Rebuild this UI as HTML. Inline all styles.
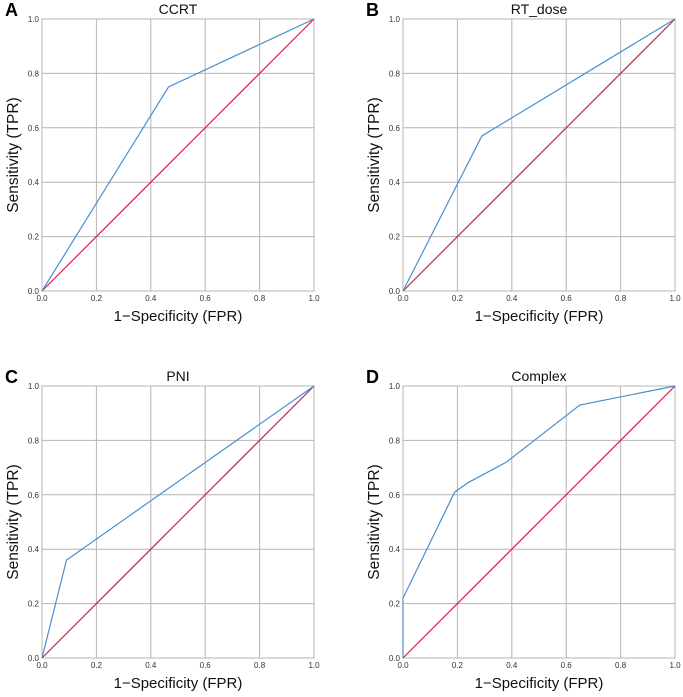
<!DOCTYPE html>
<html><head><meta charset="utf-8"><style>
body{margin:0;background:#fff;}
svg{display:block;font-family:"Liberation Sans",sans-serif;}
</style></head><body>
<svg id="chart" width="683" height="697"></svg>
<script>
const panelLetters=["A","B","C","D"];
const panelTitles=["CCRT","RT_dose","PNI","Complex"];
const rocFPR=[[0,0.465,1],[0,0.29,1],[0,0.09,1],[0,0,0.19,0.24,0.38,0.65,1]];
const rocTPR=[[0,0.75,1],[0,0.57,1],[0,0.36,1],[0,0.22,0.61,0.645,0.72,0.93,1]];
const tickLabels=["0.0","0.2","0.4","0.6","0.8","1.0"];
const tickValues=[0,0.2,0.4,0.6,0.8,1];
const svg=document.getElementById('chart');
const NS="http://www.w3.org/2000/svg";
function mk(tag,attrs,parent){const e=document.createElementNS(NS,tag);for(const k in attrs)e.setAttribute(k,attrs[k]);parent.appendChild(e);return e;}
const origins=[[42,19],[403,19],[42,386],[403,386]];
const W=272,H=272;
for(let p=0;p<4;p++){
  const [x0,y0]=origins[p];
  const g=mk('g',{},svg);
  
  
  const sx=v=>x0+v*W, sy=v=>y0+H-v*H;
  const bg=mk('rect',{x:x0,y:y0,width:W,height:H,fill:'#fff',stroke:'#888','stroke-width':1},g);
  
  tickValues.forEach((t,i)=>{
    const gx=mk('line',{x1:sx(t),x2:sx(t),y1:y0,y2:y0+H,stroke:'#b4b4b4','stroke-width':1},g);
    
    const gy=mk('line',{x1:x0,x2:x0+W,y1:sy(t),y2:sy(t),stroke:'#b4b4b4','stroke-width':1},g);
    
    const xt=mk('text',{x:sx(t),y:y0+H+10,'font-size':8,'text-anchor':'middle',fill:'#333'},g);
    xt.textContent=tickLabels[i];
    
    const yt=mk('text',{x:x0-3,y:sy(t)+3,'font-size':8,'text-anchor':'end',fill:'#333'},g);
    yt.textContent=tickLabels[i];
    
  });
  const ref=mk('line',{x1:sx(0),y1:sy(0),x2:sx(1),y2:sy(1),stroke:'#d0204a','stroke-width':1.2},g);
  
  const pts=rocFPR[p].map((f,i)=>sx(f)+','+sy(rocTPR[p][i])).join(' ');
  const roc=mk('polyline',{points:pts,fill:'none',stroke:'#4a8fd0','stroke-width':1.2},g);
  
  const tt=mk('text',{x:x0+W/2,y:y0-5,'font-size':14,'text-anchor':'middle',fill:'#111'},g);
  tt.textContent=panelTitles[p];
  
  const lt=mk('text',{x:x0-37,y:y0-3,'font-size':18,'font-weight':'bold',fill:'#000'},g);
  lt.textContent=panelLetters[p];
  
  const xl=mk('text',{x:x0+W/2,y:y0+H+30,'font-size':15,'text-anchor':'middle',fill:'#111'},g);
  xl.textContent='1\u2212Specificity (FPR)';
  
  const yl=mk('text',{x:0,y:0,'font-size':15.5,'text-anchor':'middle',fill:'#111',transform:`translate(${x0-24},${y0+H/2}) rotate(-90)`},g);
  yl.textContent='Sensitivity (TPR)';
  
}
</script>
</body></html>
